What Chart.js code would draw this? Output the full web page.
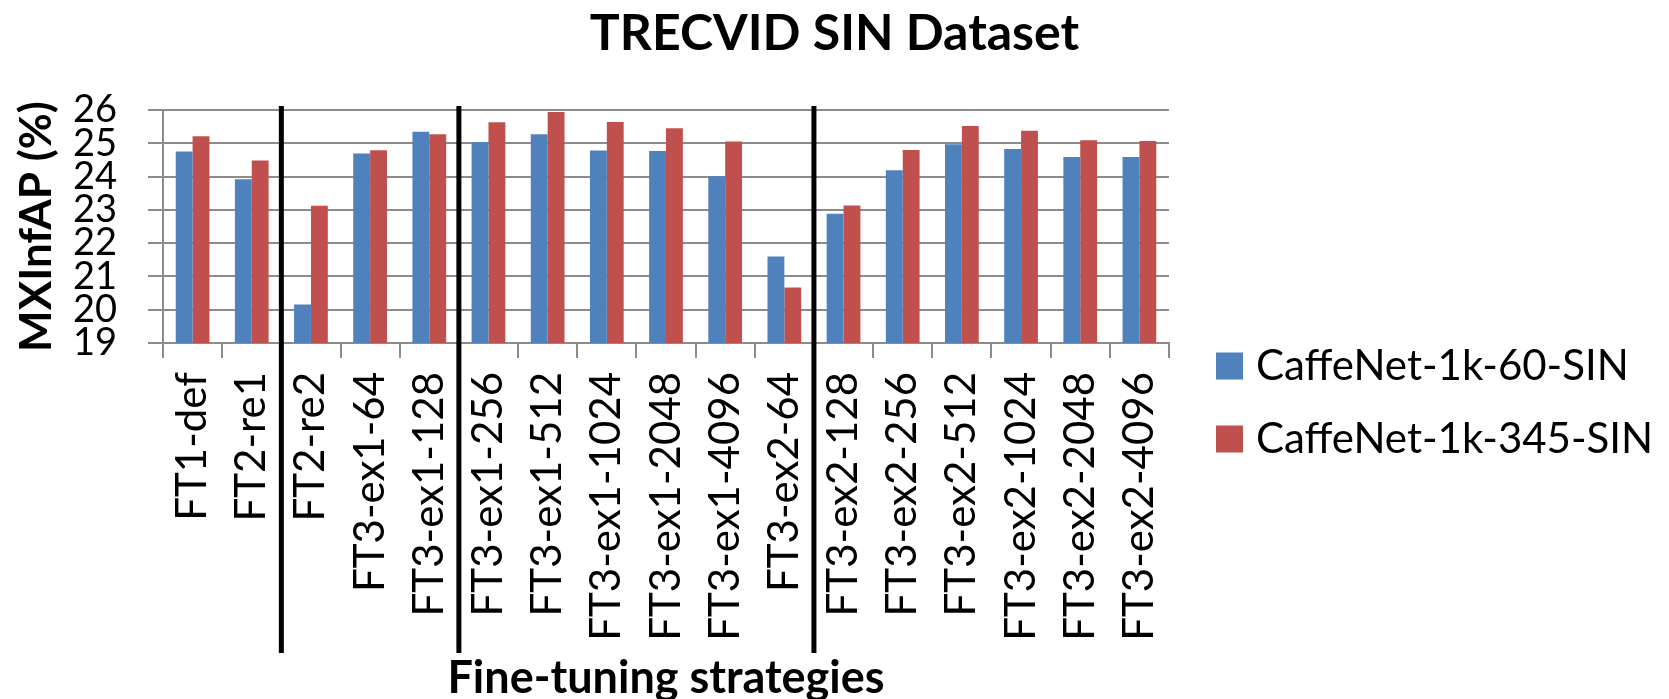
<!DOCTYPE html>
<html>
<head>
<meta charset="utf-8">
<script src="https://cdn.jsdelivr.net/npm/chart.js@4.4.1/dist/chart.umd.min.js"></script>
<style>
  html, body { margin: 0; padding: 0; background: #fff; }
  #wrap { width: 1669px; height: 699px; }
</style>
</head>
<body>
<div id="wrap"><canvas id="myChart" width="1669" height="699"></canvas></div>
<script>
// fine-tuning strategies on the x axis
const strategies = ['FT1-def', 'FT2-re1', 'FT2-re2', 'FT3-ex1-64', 'FT3-ex1-128',
    'FT3-ex1-256', 'FT3-ex1-512', 'FT3-ex1-1024', 'FT3-ex1-2048', 'FT3-ex1-4096',
    'FT3-ex2-64', 'FT3-ex2-128', 'FT3-ex2-256', 'FT3-ex2-512', 'FT3-ex2-1024',
    'FT3-ex2-2048', 'FT3-ex2-4096'];

// MXInfAP (%) per strategy
const caffe60 = [24.75, 23.92, 20.16, 24.69, 25.35, 25.04, 25.27, 24.78, 24.77, 24.01,
    21.60, 22.88, 24.19, 24.97, 24.83, 24.59, 24.59];
const caffe345 = [25.21, 24.48, 23.12, 24.79, 25.27, 25.63, 25.94, 25.64, 25.45, 25.05,
    20.67, 23.13, 24.80, 25.52, 25.38, 25.09, 25.07];

const yMin = 19;
const yMax = 26;
// thick black separators are drawn before these categories
const groupBreaks = [2, 5, 11];

Chart.defaults.font.family = 'Lato';
Chart.defaults.color = '#000';

const gridGray = '#8c8c8c';

// black vertical lines between groups of strategies
const separatorLines = {
    id: 'separatorLines',
    afterDatasetsDraw(chart) {
        const x = chart.scales.x;
        const area = chart.chartArea;
        const ctx = chart.ctx;
        ctx.save();
        ctx.strokeStyle = '#000';
        ctx.lineWidth = 5;
        groupBreaks.forEach(function (i) {
            const px = (x.getPixelForValue(i - 1) + x.getPixelForValue(i)) / 2;
            ctx.beginPath();
            ctx.moveTo(px, area.top - 4);
            ctx.lineTo(px, area.bottom + 310);
            ctx.stroke();
        });
        ctx.restore();
    }
};

// legend on the right, drawn like the excel one
const sideLegend = {
    id: 'sideLegend',
    afterDraw(chart) {
        const ctx = chart.ctx;
        const left = chart.chartArea.right + 47;
        ctx.save();
        ctx.font = '42px Lato';
        ctx.textBaseline = 'middle';
        ctx.textAlign = 'left';
        chart.data.datasets.forEach(function (ds, i) {
            const y = 366 + i * 73;
            ctx.fillStyle = ds.backgroundColor;
            ctx.fillRect(left, y - 13.5, 27, 27);
            ctx.fillStyle = '#000';
            ctx.fillText(ds.label, left + 40, y);
        });
        ctx.restore();
    }
};

const ctx = document.getElementById('myChart').getContext('2d');
new Chart(ctx, {
    type: 'bar',
    data: {
        labels: strategies,
        datasets: [
            {
                label: 'CaffeNet-1k-60-SIN',
                backgroundColor: '#4F81BD',
                data: caffe60
            },
            {
                label: 'CaffeNet-1k-345-SIN',
                backgroundColor: '#C0504D',
                data: caffe345
            }
        ]
    },
    options: {
        responsive: false,
        animation: false,
        devicePixelRatio: 1,
        layout: { padding: 0 },
        datasets: {
            bar: { categoryPercentage: 0.57, barPercentage: 1.0 }
        },
        plugins: {
            legend: { display: false },
            tooltip: { enabled: false },
            title: {
                display: true,
                text: 'TRECVID SIN Dataset',
                font: { size: 50, weight: 'bold' },
                color: '#000',
                padding: { top: 4, bottom: 46 }
            }
        },
        scales: {
            x: {
                afterFit: function (s) { s.height = 356; },
                grid: {
                    drawOnChartArea: false,
                    drawTicks: true,
                    tickLength: 15,
                    color: gridGray,
                    lineWidth: 2
                },
                border: { color: gridGray, width: 2 },
                ticks: {
                    autoSkip: false,
                    minRotation: 90,
                    maxRotation: 90,
                    padding: 14,
                    font: { size: 42 },
                    color: '#000'
                },
                title: {
                    display: true,
                    text: 'Fine-tuning strategies',
                    font: { size: 45, weight: 'bold', lineHeight: 1 },
                    color: '#000',
                    padding: { top: 0, bottom: -2 }
                }
            },
            y: {
                min: yMin,
                max: yMax,
                afterFit: function (s) { s.width = 163; },
                grid: {
                    color: gridGray,
                    lineWidth: 2,
                    tickLength: 15
                },
                border: { color: gridGray, width: 2 },
                ticks: {
                    stepSize: 1,
                    autoSkip: false,
                    padding: 31,
                    font: { size: 38 },
                    color: '#000'
                },
                title: {
                    display: true,
                    text: 'MXInfAP (%)',
                    font: { size: 44, weight: 'bold' },
                    color: '#000',
                    padding: { top: 10, bottom: 0 }
                }
            },
            // empty right-hand box that leaves room for the legend
            legendSpace: {
                position: 'right',
                min: yMin,
                max: yMax,
                afterFit: function (s) { s.width = 500; },
                grid: { display: false },
                border: { display: false },
                ticks: { display: false }
            }
        }
    },
    plugins: [separatorLines, sideLegend]
});
</script>
</body>
</html>
